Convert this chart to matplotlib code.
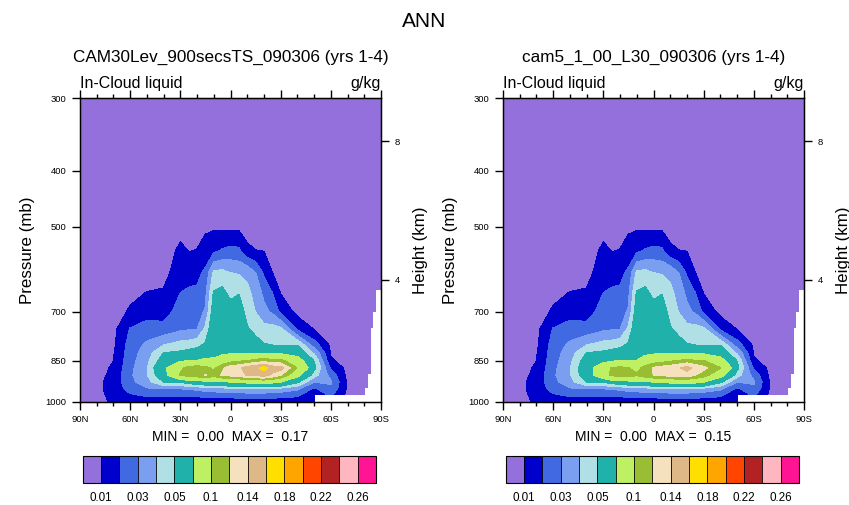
import numpy as np
import matplotlib.pyplot as plt
from matplotlib.ticker import FixedLocator, NullLocator

plt.rcParams['font.family'] = ['Liberation Sans', 'DejaVu Sans']

# zonal mean in-cloud liquid (g/kg), one column per latitude,
# values listed at the pressure levels in plev
lats = [90, 80, 70, 60, 50, 40, 30, 25, 20, 15, 10, 5, 0,
        -5, -10, -15, -20, -25, -30, -40, -50, -60, -70, -80, -90]
plev = [300, 450, 500, 550, 600, 650, 700, 750, 800, 825, 850, 875, 900, 925, 950, 1000]

cam30 = [
    [.002, .003, .003, .003, .003, .003, .003, .004, .004, .004, .005, .005, .005, .005, .006, .006],
    [.002, .003, .003, .003, .004, .004, .004, .005, .005, .006, .006, .007, .007, .008, .008, .008],
    [.002, .003, .003, .004, .004, .005, .006, .007, .008, .009, .0098, .011, .012, .013, .013, .011],
    [.002, .004, .005, .006, .007, .008, .011, .0205, .024, .025, .026, .027, .028, .027, .024, .013],
    [.002, .004, .005, .006, .007, .0102, .016, .024, .032, .035, .037, .039, .039, .036, .029, .014],
    [.002, .004, .005, .006, .0075, .0108, .0155, .0235, .04, .05, .056, .064, .06, .05, .03, .012],
    [.002, .005, .0075, .0115, .014, .02, .024, .028, .044, .052, .066, .095, .102, .05, .03, .012],
    [.002, .005, .0068, .0098, .015, .022, .025, .029, .045, .054, .068, .106, .108, .056, .031, .012],
    [.002, .005, .0075, .0102, .017, .022, .026, .0295, .047, .056, .07, .11, .112, .058, .032, .012],
    [.002, .0055, .0085, .0135, .022, .027, .031, .042, .052, .062, .073, .105, .121, .062, .034, .013],
    [.002, .0055, .0085, .018, .042, .051, .056, .06, .063, .066, .072, .095, .108, .065, .035, .013],
    [.002, .005, .008, .021, .043, .053, .058, .061, .063, .066, .08, .115, .122, .066, .036, .013],
    [.002, .005, .008, .023, .04, .047, .055, .06, .063, .067, .09, .13, .126, .07, .036, .013],
    [.002, .005, .0078, .022, .039, .0495, .056, .06, .064, .068, .095, .135, .13, .072, .037, .013],
    [.002, .004, .006, .012, .038, .042, .046, .051, .062, .069, .098, .148, .142, .075, .038, .013],
    [.002, .004, .0055, .0102, .03, .037, .0395, .047, .054, .068, .105, .155, .145, .076, .038, .013],
    [.002, .004, .0055, .0098, .018, .027, .033, .043, .051, .068, .11, .166, .15, .078, .038, .013],
    [.002, .004, .005, .007, .01, .02, .028, .044, .05, .066, .105, .15, .135, .075, .037, .013],
    [.002, .003, .004, .005, .007, .0095, .017, .042, .049, .065, .105, .148, .12, .07, .036, .013],
    [.002, .003, .004, .005, .006, .006, .007, .0175, .05, .06, .08, .098, .076, .052, .032, .012],
    [.002, .003, .004, .004, .005, .006, .007, .0095, .025, .038, .049, .053, .044, .03, .018, .01],
    [.002, .003, .003, .004, .004, .005, .006, .007, .008, .009, .011, .018, .026, .031, .028, .015],
    [.002, .003, .003, .003, .004, .004, .004, .005, .005, .006, .006, .007, .007, .008, .008, .008],
    [.002, .003, .003, .003, .003, .004, .004, .004, .005, .005, .005, .006, .006, .006, .007, .007],
    [.002, .003, .003, .003, .003, .003, .003, .004, .004, .004, .005, .005, .005, .005, .006, .006],
]

cam5 = [
    [.002, .003, .003, .003, .003, .003, .003, .004, .004, .004, .005, .005, .005, .005, .006, .006],
    [.002, .003, .003, .003, .004, .004, .004, .005, .005, .006, .006, .007, .007, .008, .008, .008],
    [.002, .003, .003, .004, .004, .005, .006, .007, .008, .009, .0098, .011, .012, .013, .013, .011],
    [.002, .004, .005, .006, .007, .008, .011, .0205, .024, .025, .026, .027, .028, .027, .024, .013],
    [.002, .004, .005, .006, .007, .0102, .016, .024, .032, .035, .037, .039, .039, .036, .029, .014],
    [.002, .004, .005, .006, .0075, .0108, .0155, .0235, .04, .05, .056, .06, .058, .05, .03, .012],
    [.002, .005, .0075, .0115, .014, .02, .024, .028, .044, .052, .062, .085, .088, .05, .03, .012],
    [.002, .005, .0068, .0098, .015, .022, .025, .029, .045, .054, .066, .101, .104, .056, .031, .012],
    [.002, .005, .0075, .0102, .017, .022, .026, .0295, .047, .056, .068, .104, .108, .058, .032, .012],
    [.002, .0055, .0085, .0135, .022, .027, .031, .042, .052, .062, .07, .1, .11, .062, .034, .013],
    [.002, .0055, .0085, .018, .042, .051, .056, .06, .063, .066, .07, .09, .103, .065, .035, .013],
    [.002, .005, .008, .021, .043, .053, .058, .061, .063, .066, .078, .108, .112, .066, .036, .013],
    [.002, .005, .008, .023, .04, .047, .055, .06, .063, .067, .085, .122, .12, .07, .036, .013],
    [.002, .005, .0078, .022, .039, .0495, .056, .06, .064, .068, .09, .127, .123, .072, .037, .013],
    [.002, .004, .006, .012, .038, .042, .046, .051, .062, .069, .095, .132, .128, .075, .038, .013],
    [.002, .004, .0055, .0102, .03, .037, .0395, .047, .054, .068, .1, .138, .13, .076, .038, .013],
    [.002, .004, .0055, .0098, .018, .027, .033, .043, .051, .068, .105, .146, .132, .078, .038, .013],
    [.002, .004, .005, .007, .01, .02, .028, .044, .05, .066, .1, .134, .12, .075, .037, .013],
    [.002, .003, .004, .005, .007, .0095, .017, .042, .049, .065, .1, .125, .11, .07, .036, .013],
    [.002, .003, .004, .005, .006, .006, .007, .0175, .05, .06, .078, .1, .078, .052, .032, .012],
    [.002, .003, .004, .004, .005, .006, .007, .0095, .025, .038, .049, .053, .044, .03, .018, .01],
    [.002, .003, .003, .004, .004, .005, .006, .007, .008, .009, .011, .018, .026, .031, .028, .015],
    [.002, .003, .003, .003, .004, .004, .004, .005, .005, .006, .006, .007, .007, .008, .008, .008],
    [.002, .003, .003, .003, .003, .004, .004, .004, .005, .005, .005, .006, .006, .006, .007, .007],
    [.002, .003, .003, .003, .003, .003, .003, .004, .004, .004, .005, .005, .005, .005, .006, .006],
]

cases = ['CAM30Lev_900secsTS_090306 (yrs 1-4)', 'cam5_1_00_L30_090306 (yrs 1-4)']

cnlevels = [0.01, 0.02, 0.03, 0.04, 0.05, 0.07, 0.1, 0.12, 0.14,
            0.16, 0.18, 0.2, 0.22, 0.24, 0.26]
cncolors = ['#9370DB', '#0000CD', '#4169E1', '#7A9EF0', '#B0E0E6', '#20B2AA',
            '#BEF064', '#99BE33', '#F5E1BE', '#DEB887', '#FFDF00', '#FFA500',
            '#FF4500', '#B22222', '#FFB6C1', '#FF1493']
cbar_ticks = [0.01, 0.03, 0.05, 0.1, 0.14, 0.18, 0.22, 0.26]

lat_ticks = [90, 60, 30, 0, -30, -60, -90]
lat_labels = ['90N', '60N', '30N', '0', '30S', '60S', '90S']
p_ticks = [300, 400, 500, 700, 850, 1000]
km_ticks = [4, 8]

# surface pressure over Antarctica (masked white)
sfc_lat = [-50.5, -80.3, -82, -83.8, -85.5, -87, -90]
sfc_ps = [975, 949, 898, 748, 700, 642, 642]

W, H = 849, 505


def fig_xy(x, y):
    return x / W, 1 - y / H


def std_atm_p(z_km):
    return 1013.25 * (1 - 2.25577e-5 * z_km * 1000) ** 5.25588


def draw_panel(fig, x0, field, case):
    ax = fig.add_axes([x0 / W, 1 - 401.5 / H, 301 / W, 303.2 / H])
    z = np.array(field).T
    cs = ax.contourf(lats, plev, z, levels=cnlevels, colors=cncolors, extend='both')
    cs.set_edgecolor('face')
    cs.set_linewidth(0.4)
    ax.fill_between(sfc_lat, sfc_ps, 1100, step='post', color='white', lw=0, zorder=3)

    ax.set_yscale('log')
    ax.set_xlim(90, -90)
    ax.set_ylim(1000, 300)
    ax.xaxis.set_major_locator(FixedLocator(lat_ticks))
    ax.set_xticklabels(lat_labels)
    ax.xaxis.set_minor_locator(FixedLocator(np.arange(-80, 90, 10)))
    ax.yaxis.set_major_locator(FixedLocator(p_ticks))
    ax.yaxis.set_minor_locator(NullLocator())
    ax.set_yticklabels([str(p) for p in p_ticks])
    ax.tick_params(which='both', direction='out', top=True, right=False, width=1.0)
    ax.tick_params(which='major', length=5.5, labelsize=6.8, pad=4.5)
    ax.tick_params(which='minor', length=3)
    for s in ax.spines.values():
        s.set_linewidth(1.0)
        s.set_zorder(5)
    ax.set_ylabel('Pressure (mb)', fontsize=12.2, labelpad=7)

    ax2 = ax.twinx()
    ax2.set_yscale('log')
    ax2.set_ylim(1000, 300)
    ax2.yaxis.set_major_locator(FixedLocator([std_atm_p(k) for k in km_ticks]))
    ax2.yaxis.set_minor_locator(NullLocator())
    ax2.set_yticklabels([str(k) for k in km_ticks])
    ax2.tick_params(direction='out', length=5.5, width=1.0, labelsize=6.8, pad=4.5)
    ax2.set_ylabel('Height (km)', fontsize=12.2, labelpad=9)

    cx = x0 + 2.7
    cax = fig.add_axes([cx / W, 1 - 483.3 / H, 293.3 / W, 27.3 / H])
    cb = fig.colorbar(cs, cax=cax, orientation='horizontal', extendrect=True,
                      extendfrac='auto', spacing='uniform', drawedges=True,
                      ticks=cbar_ticks)
    cb.ax.set_xticklabels(['%g' % t for t in cbar_ticks])
    cb.ax.tick_params(length=0, labelsize=8.4, pad=6)
    cb.outline.set_linewidth(0.8)
    cb.dividers.set_linewidth(0.6)

    xc = x0 + 150.5
    fig.text(*fig_xy(xc, 61.7), case, ha='center', va='baseline', fontsize=12.3)
    fig.text(*fig_xy(x0, 88.5), 'In-Cloud liquid', ha='left', va='baseline', fontsize=11.5)
    fig.text(*fig_xy(x0 + 301, 88.5), 'g/kg', ha='right', va='baseline', fontsize=11.5)
    vmin, vmax = np.min(z), np.max(z)
    fig.text(*fig_xy(xc, 441), 'MIN =  %.2f  MAX =  %.2f' % (vmin, vmax),
             ha='center', va='baseline', fontsize=10)


fig = plt.figure(figsize=(W / 100, H / 100), dpi=100)
draw_panel(fig, 80, cam30, cases[0])
draw_panel(fig, 503, cam5, cases[1])
fig.text(*fig_xy(424.5, 26.7), 'ANN', ha='center', va='baseline', fontsize=15)

fig.savefig('out.png', dpi=100)
